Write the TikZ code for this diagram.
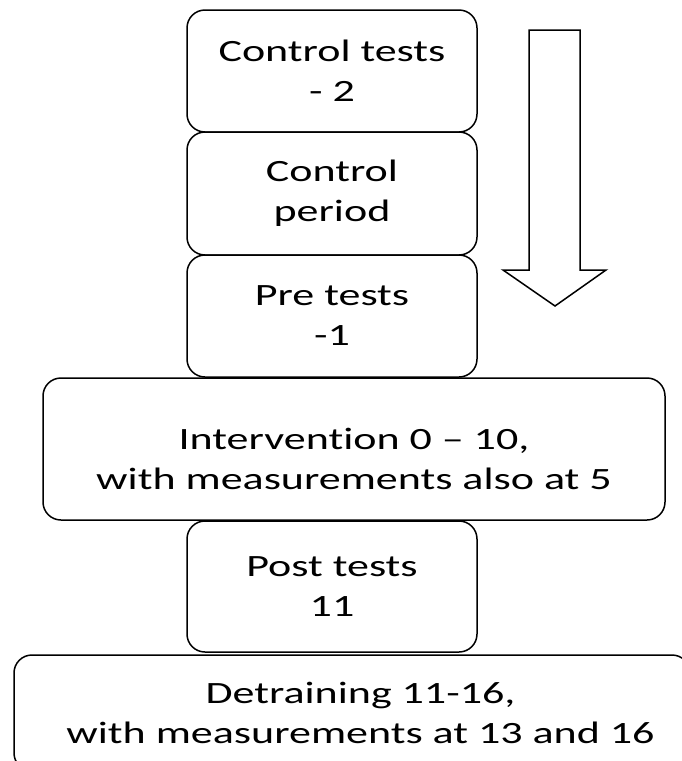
\documentclass[tikz,border=0pt]{standalone}
\usepackage{fontspec}
\setmainfont{Carlito}[FakeStretch=1.42, Ligatures={TeX,NoCommon}]

\begin{document}
\begin{tikzpicture}[x=1pt, y=-1pt,
    stage/.style={draw, rounded corners=18pt, line width=1.5pt, align=center,
      inner sep=0pt, font=\fontsize{31}{40}\selectfont}]
      \useasboundingbox (0,0) rectangle (682,761);
      \clip (0,0) rectangle (682,761);
      \draw
        (332,71) node[stage, minimum width=290pt, minimum height=122pt] (ctests){Control tests\\- 2}
        (332,193.5) node[stage, minimum width=290pt, minimum height=123pt] (cperiod){Control\\period}
        (332,316) node[stage, minimum width=290pt, minimum height=122pt] (pre){Pre tests\\-1}
        (354,449) node[stage, minimum width=622pt, minimum height=142pt] (interv){\rule{0pt}{42pt}Intervention 0 -- 10,\\with measurements also at 5}
        (332,586.5) node[stage, minimum width=290pt, minimum height=131pt] (post){Post tests\\11}
        (352,713) node[stage, minimum width=676pt, minimum height=116pt] (detrain){\hspace*{17pt}Detraining 11-16,\\\hspace*{17pt}with measurements at 13 and 16};
      % time runs downwards
      \draw[line width=1.5pt, fill=white]
        (529,30) -- (580,30) -- (580,270) -- (606,270) -- (555,306) -- (503,270) -- (529,270) -- cycle;
    \end{tikzpicture}
\end{document}
